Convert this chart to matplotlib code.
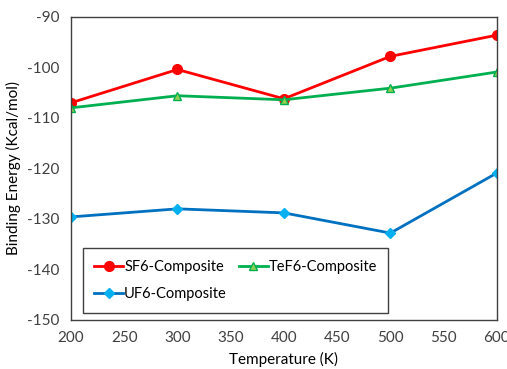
import numpy as np
from matplotlib import pyplot as plt

plt.rcParams['font.family'] = ['Lato', 'DejaVu Sans']
plt.rcParams['axes.unicode_minus'] = False

temps = [200, 300, 400, 500, 600]
sf6 = [-107.0, -100.4, -106.2, -97.8, -93.6]
tef6 = [-108.0, -105.6, -106.4, -104.1, -100.9]
uf6 = [-129.6, -128.0, -128.8, -132.8, -120.9]

fig = plt.figure(figsize=(5.07, 3.69), dpi=100)
ax = fig.add_axes([0.140, 0.133, 0.840, 0.821])

l1, = ax.plot(temps, sf6, color='#FF0000', lw=2, marker='o', ms=7,
              label='SF6-Composite')
l2, = ax.plot(temps, tef6, color='#00B050', lw=2, marker='^', ms=6,
              mfc='#92D050', mec='#00B050', label='TeF6-Composite')
l3, = ax.plot(temps, uf6, color='#0070C0', lw=2, marker='D', ms=5,
              mfc='#00B0F0', mec='#00B0F0', label='UF6-Composite')

ax.set_xlim(200, 600)
ax.set_ylim(-150, -90)
ax.set_xticks(np.arange(200, 601, 50))
ax.set_yticks(np.arange(-150, -89, 10))
ax.tick_params(length=0, labelsize=11, pad=8, colors='#404040')
for s in ax.spines.values():
    s.set_color('#404040')
    s.set_linewidth(1)

ax.set_xlabel('Temperature (K)', fontsize=11, labelpad=5)
ax.set_ylabel('Binding Energy (Kcal/mol)', fontsize=11, labelpad=5)

# excel-like row-wise order
leg = ax.legend([l1, l3, l2], ['SF6-Composite', 'UF6-Composite', 'TeF6-Composite'],
                loc='lower left', ncol=2, fontsize=10.5, frameon=True,
                fancybox=False, edgecolor='#404040', framealpha=1,
                handlelength=2.0, handletextpad=0.05, columnspacing=0.8,
                borderpad=0.8, labelspacing=0.9,
                bbox_to_anchor=(0.01, 0.0))
leg.get_frame().set_linewidth(1)

fig.savefig('out.png', dpi=100)
